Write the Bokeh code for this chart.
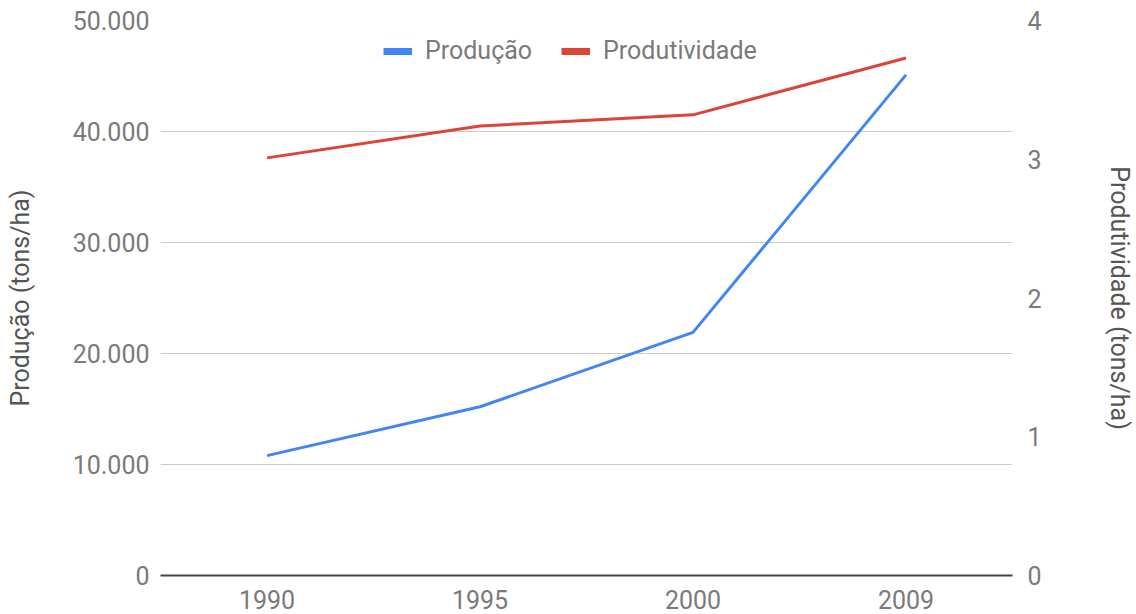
from bokeh.plotting import figure
from bokeh.models import (FactorRange, Range1d, LinearAxis, FixedTicker,
                          CustomJSTickFormatter, Legend, LegendItem, ColumnDataSource)
from bokeh.embed import file_html
from bokeh.resources import INLINE

# Dados
anos = ["1990", "1995", "2000", "2009"]
producao = [10800, 15200, 21900, 45100]          # tons/ha (eixo esquerdo)
produtividade = [3.01, 3.24, 3.32, 3.73]          # tons/ha (eixo direito)
ticks_producao = [0, 10000, 20000, 30000, 40000, 50000]
ticks_produtividade = [0, 1, 2, 3, 4]

FONT = "Roboto"
FS = "25px"
TICK_COLOR = "#7a7a7a"
TITLE_COLOR = "#555555"
AZUL = "#4285F4"
VERMELHO = "#DB4437"

p = figure(
    width=1136, height=614,
    x_range=FactorRange(factors=anos, range_padding=0),
    y_range=Range1d(0, 50000),
    output_backend="svg", toolbar_location=None,
    min_border_left=160, min_border_right=123,
    min_border_top=20, min_border_bottom=39,
)
p.outline_line_color = None
p.background_fill_color = "white"
p.border_fill_color = "white"
p.extra_y_ranges = {"prod": Range1d(0, 4)}

src = ColumnDataSource(dict(ano=anos, producao=producao, produtividade=produtividade))

l1 = p.line("ano", "producao", source=src, line_color=AZUL, line_width=3)
l2 = p.line("ano", "produtividade", source=src, y_range_name="prod",
            line_color=VERMELHO, line_width=3)

# Amostras da legenda (mais grossas que as linhas, sem pontos visíveis)
vazio = ColumnDataSource(dict(x=[anos[0]], y=[float("nan")]))
s1 = p.line("x", "y", source=vazio, line_color=AZUL, line_width=7)
s2 = p.line("x", "y", source=vazio, line_color=VERMELHO, line_width=7)

# Grade horizontal
p.xgrid.grid_line_color = None
p.ygrid.grid_line_color = "#cccccc"
p.ygrid.grid_line_width = 1
p.ygrid.ticker = FixedTicker(ticks=ticks_producao)

# Eixo X (linha de base)
xa = p.xaxis[0]
xa.axis_line_color = "#444444"
xa.axis_line_width = 2
xa.major_tick_line_color = None
xa.minor_tick_line_color = None
xa.major_label_standoff = 8
xa.major_label_text_font = FONT
xa.major_label_text_font_size = FS
xa.major_label_text_color = TICK_COLOR

# Eixo Y esquerdo
ya = p.yaxis[0]
ya.ticker = FixedTicker(ticks=ticks_producao)
ya.formatter = CustomJSTickFormatter(
    code='return tick.toFixed(0).replace(/\\B(?=(\\d{3})+(?!\\d))/g, ".");')
ya.axis_line_color = None
ya.major_tick_line_color = None
ya.minor_tick_line_color = None
ya.major_label_standoff = 5
ya.major_label_text_font = FONT
ya.major_label_text_font_size = FS
ya.major_label_text_color = TICK_COLOR
ya.axis_label = "Produção (tons/ha)"
ya.axis_label_text_font = FONT
ya.axis_label_text_font_size = FS
ya.axis_label_text_font_style = "normal"
ya.axis_label_text_color = TITLE_COLOR
ya.axis_label_standoff = 35

# Eixo Y direito
yr = LinearAxis(y_range_name="prod", ticker=FixedTicker(ticks=ticks_produtividade))
yr.axis_line_color = None
yr.major_tick_line_color = None
yr.minor_tick_line_color = None
yr.major_label_standoff = 9
yr.major_label_text_font = FONT
yr.major_label_text_font_size = FS
yr.major_label_text_color = TICK_COLOR
yr.axis_label = "Produtividade (tons/ha)"
yr.axis_label_text_font = FONT
yr.axis_label_text_font_size = FS
yr.axis_label_text_font_style = "normal"
yr.axis_label_text_color = TITLE_COLOR
yr.axis_label_standoff = 60
p.add_layout(yr, "right")

legend = Legend(
    items=[LegendItem(label="Produção", renderers=[s1]),
           LegendItem(label="Produtividade", renderers=[s2])],
    location=(223, 510), orientation="horizontal",
    label_text_font=FONT, label_text_font_size=FS, label_text_color=TICK_COLOR,
    glyph_width=29, glyph_height=20, label_standoff=13, spacing=29,
    padding=0, margin=0,
    border_line_color=None, background_fill_alpha=0,
)
p.add_layout(legend, "center")

open("out.html", "w").write(file_html(p, INLINE))
